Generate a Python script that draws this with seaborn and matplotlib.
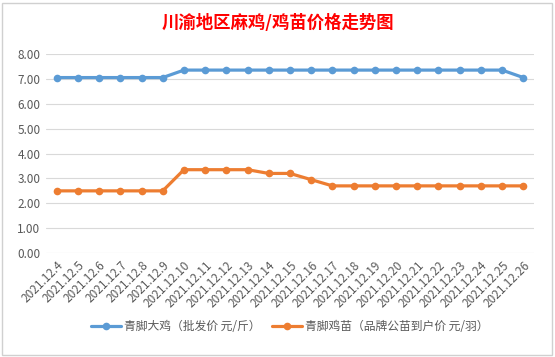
import pandas as pd
import matplotlib.pyplot as plt
import seaborn as sns
from matplotlib.patches import Rectangle

sns.set_style("white")
plt.rcParams["font.family"] = ["Noto Sans CJK SC", "DejaVu Sans"]

TITLE = "川渝地区麻鸡/鸡苗价格走势图"
DATES = ["2021.12.%d" % d for d in range(4, 27)]
BIG_CHICKEN = [7.05, 7.05, 7.05, 7.05, 7.05, 7.05,
               7.35, 7.35, 7.35, 7.35, 7.35, 7.35, 7.35, 7.35,
               7.35, 7.35, 7.35, 7.35, 7.35, 7.35, 7.35, 7.35, 7.05]
CHICK = [2.5, 2.5, 2.5, 2.5, 2.5, 2.5,
         3.35, 3.35, 3.35, 3.35, 3.2, 3.2, 2.95,
         2.7, 2.7, 2.7, 2.7, 2.7, 2.7, 2.7, 2.7, 2.7, 2.7]
SERIES = ["青脚大鸡（批发价 元/斤）", "青脚鸡苗（品牌公苗到户价 元/羽）"]
COLORS = {SERIES[0]: "#5B9BD5", SERIES[1]: "#ED7D31"}


def main():
    df = pd.concat([
        pd.DataFrame({"date": DATES, "price": BIG_CHICKEN, "series": SERIES[0]}),
        pd.DataFrame({"date": DATES, "price": CHICK, "series": SERIES[1]}),
    ])

    fig = plt.figure(figsize=(5.55, 3.57), dpi=100)
    ax = fig.add_axes([0.083, 0.291, 0.879, 0.558])

    sns.lineplot(data=df, x="date", y="price", hue="series", palette=COLORS,
                 marker="o", markersize=5.5, markeredgewidth=0, linewidth=2.3,
                 sort=False, ax=ax)

    ax.set_xlim(-0.5, len(DATES) - 0.5)
    ax.set_ylim(0, 8)
    ax.set_yticks(range(0, 9))
    ax.set_yticklabels(["%.2f" % v for v in range(0, 9)])
    ax.grid(axis="y", color="#D9D9D9", linewidth=0.8)
    ax.set_axisbelow(True)
    for s in ax.spines.values():
        s.set_visible(False)
    ax.set_xlabel("")
    ax.set_ylabel("")
    ax.tick_params(axis="both", length=0, labelsize=8.5, labelcolor="#595959", pad=4)
    plt.setp(ax.get_xticklabels(), rotation=45, ha="right", rotation_mode="anchor")

    leg = ax.legend(loc="center", bbox_to_anchor=(0.5, -0.37), ncol=2, frameon=False,
                    fontsize=8.5, handlelength=2.5, columnspacing=1.0, handletextpad=0.3)
    for t in leg.get_texts():
        t.set_color("#595959")

    fig.text(0.5, 0.935, TITLE, ha="center", va="center", fontsize=12.5,
             fontweight="bold", color="#FF0000")

    fig.patches.append(Rectangle((0.004, 0.006), 0.99, 0.985, transform=fig.transFigure,
                                 fill=False, edgecolor="#D0D0D0", linewidth=1))

    plt.savefig("out.png", dpi=100, facecolor="white")
    plt.close()


if __name__ == "__main__":
    main()
